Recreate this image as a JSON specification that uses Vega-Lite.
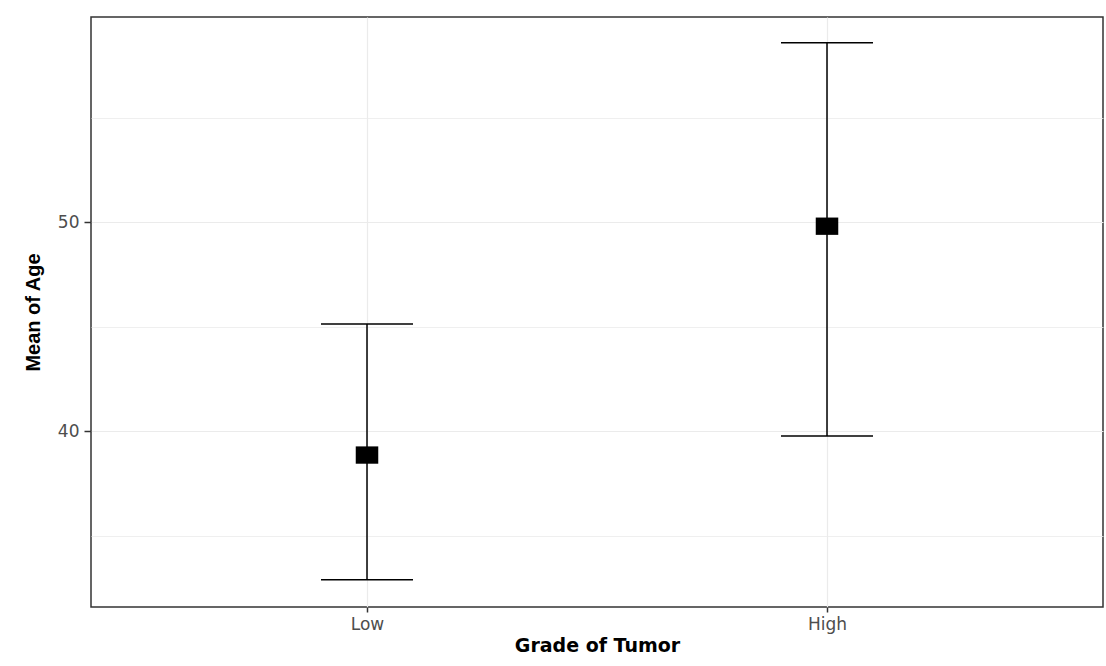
{
  "$schema": "https://vega.github.io/schema/vega-lite/v6.json",
  "width": 1012,
  "height": 590,
  "autosize": {"type": "none"},
  "padding": {"left": 91, "top": 17, "right": 3, "bottom": 59},
  "background": "white",
  "data": {
    "values": [
      {"grade": "Low", "mean": 38.85, "lower": 32.88, "upper": 45.12},
      {"grade": "High", "mean": 49.8, "lower": 39.76, "upper": 58.58}
    ]
  },
  "config": {
    "view": {"stroke": "#333333", "strokeWidth": 1.5},
    "axis": {
      "labelFont": "DejaVu Sans",
      "labelFontSize": 17,
      "labelColor": "#4d4d4d",
      "titleFont": "DejaVu Sans",
      "titleColor": "#000000",
      "titleFontWeight": "bold",
      "domain": false,
      "tickColor": "#333333",
      "tickWidth": 1.5,
      "tickSize": 6,
      "gridColor": "#ebebeb",
      "gridWidth": 1.2
    }
  },
  "encoding": {
    "x": {
      "field": "grade",
      "type": "nominal",
      "sort": ["Low", "High"],
      "scale": {"type": "point", "padding": 0.6},
      "axis": {
        "title": "Grade of Tumor",
        "titleFontSize": 19,
        "titlePadding": 4,
        "labelAngle": 0,
        "labelPadding": 4,
        "tickSize": 5,
        "grid": true
      }
    }
  },
  "layer": [
    {
      "mark": {"type": "rule", "color": "black", "strokeWidth": 1.5},
      "encoding": {
        "y": {
          "field": "lower",
          "type": "quantitative",
          "scale": {"domain": [31.58, 59.81], "nice": false, "zero": false},
          "axis": {
            "title": "Mean of Age",
            "titleFont": "Liberation Sans",
            "titleFontSize": 20,
            "titlePadding": 14,
            "values": [35, 40, 45, 50, 55],
            "labelExpr": "datum.value % 10 == 0 ? datum.label : ''",
            "tickOpacity": {"condition": {"test": "datum.value % 10 == 0", "value": 1}, "value": 0},
            "gridWidth": {"condition": {"test": "datum.value % 10 == 0", "value": 1.2}, "value": 0.8},
            "tickSize": 7,
            "labelPadding": 5,
            "grid": true
          }
        },
        "y2": {"field": "upper"}
      }
    },
    {
      "mark": {"type": "tick", "color": "black", "thickness": 1.5, "size": 92, "opacity": 1},
      "encoding": {"y": {"field": "upper", "type": "quantitative"}}
    },
    {
      "mark": {"type": "tick", "color": "black", "thickness": 1.5, "size": 92, "opacity": 1},
      "encoding": {"y": {"field": "lower", "type": "quantitative"}}
    },
    {
      "mark": {
        "type": "point",
        "shape": "M-1.3,-1L1.3,-1L1.3,1L-1.3,1Z",
        "filled": true,
        "color": "black",
        "opacity": 1,
        "size": 300
      },
      "encoding": {"y": {"field": "mean", "type": "quantitative"}}
    }
  ]
}
